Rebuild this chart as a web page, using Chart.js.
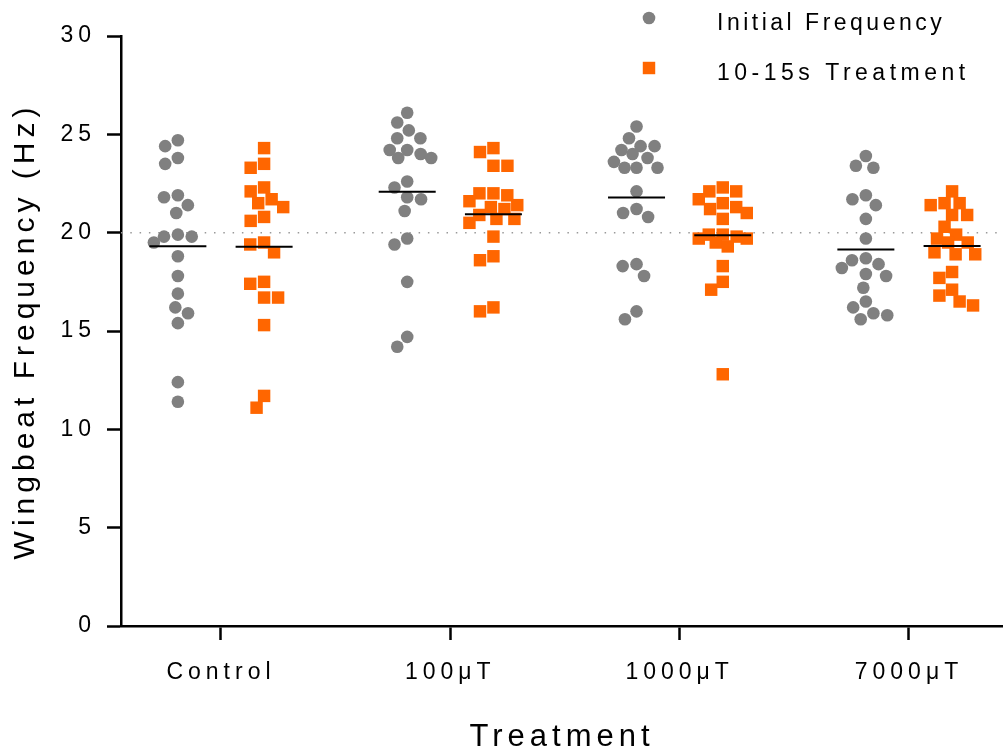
<!DOCTYPE html>
<html lang="en">
<head>
  <meta charset="UTF-8">
  <title>Wingbeat Frequency by Treatment</title>
  <script src="https://cdn.jsdelivr.net/npm/chart.js"></script>
  <style>
    html, body {
      margin: 0;
      padding: 0;
      background: #ffffff;
    }
    #wrap {
      width: 1003px;
      height: 753px;
    }
  </style>
</head>
<body>
  <div id="wrap"><canvas id="chart" width="1003" height="753"></canvas></div>

  <script>
    // values (Hz)
    const categories = ['Control', '100μT', '1000μT', '7000μT'];
    const seriesLabels = ['Initial Frequency', '10-15s Treatment'];

    const initialControl = [24.4, 24.7, 23.8, 23.5, 21.9, 21.8, 21.4, 21.0, 19.9, 19.8, 19.8, 19.5, 18.8, 17.8, 16.9, 16.2, 15.9, 15.4, 12.4, 11.4];
    const initial100 = [26.1, 25.6, 25.2, 24.8, 24.8, 24.2, 24.2, 23.8, 23.8, 24.0, 22.6, 22.3, 21.7, 21.8, 21.1, 19.7, 19.4, 17.5, 14.7, 14.2];
    const initial1000 = [25.4, 24.8, 24.4, 24.4, 24.2, 24.0, 23.8, 23.6, 23.3, 23.3, 23.3, 22.1, 21.2, 20.8, 21.0, 18.3, 18.4, 17.8, 16.0, 15.6];
    const initial7000 = [23.9, 23.3, 23.4, 21.9, 21.7, 21.4, 20.7, 19.7, 18.6, 18.7, 18.4, 18.2, 17.8, 17.9, 17.2, 16.5, 16.2, 15.9, 15.6, 15.8];

    const treatedControl = [24.3, 23.3, 23.5, 22.1, 22.3, 21.7, 21.3, 21.5, 20.6, 20.8, 19.4, 19.5, 19.0, 17.4, 17.5, 16.7, 16.7, 15.3, 11.7, 11.1];
    const treated100 = [24.3, 24.1, 23.4, 23.4, 22.0, 21.9, 22.0, 21.6, 21.4, 21.2, 21.3, 20.9, 20.7, 20.7, 20.5, 19.8, 18.8, 18.6, 16.0, 16.2];
    const treated1000 = [22.3, 22.1, 22.1, 21.5, 21.7, 21.2, 21.3, 21.0, 20.7, 19.9, 19.9, 19.7, 19.7, 19.5, 19.8, 19.3, 18.3, 17.5, 17.1, 12.8];
    const treated7000 = [22.1, 21.5, 21.4, 21.5, 20.9, 20.9, 20.3, 19.9, 19.7, 19.5, 19.5, 19.0, 18.9, 18.9, 18.0, 17.7, 17.1, 16.8, 16.5, 16.3];

    const yTicks = [0, 5, 10, 15, 20, 25, 30];
    const refLevel = 20;

    const FONT = "'Liberation Sans', Arial, sans-serif";
    const GRAY = '#808080';
    const ORANGE = '#ff6600';
    const X_MIN = -0.436, X_MAX = 3.41;
    const SHIFT = 0.188;   // half distance between the two columns of a group

    const initialGroups = [initialControl, initial100, initial1000, initial7000];
    const treatedGroups = [treatedControl, treated100, treated1000, treated7000];

    function mean(arr) {
      return arr.reduce((s, v) => s + v, 0) / arr.length;
    }

    function columnPoints(groups, shift) {
      return groups.flatMap((g, i) => g.map(v => ({ x: i + shift, y: v, cx: i + shift })));
    }

    function meanPoints(groups, shift) {
      return groups.map((g, i) => ({ x: i + shift, y: mean(g) }));
    }

    // beeswarm: spread overlapping points sideways (pixels), within maxOff of the column centre
    function swarm(points, xs, ys, dist, maxOff) {
      const pxPerUnit = xs.getPixelForValue(1) - xs.getPixelForValue(0);
      const cols = {};
      points.forEach(p => (cols[p.cx] = cols[p.cx] || []).push(p));
      Object.values(cols).forEach(list => {
        const placed = [];
        list.slice().sort((a, b) => b.y - a.y).forEach(p => {
          const py = ys.getPixelForValue(p.y);
          const near = placed.filter(q => Math.abs(q.py - py) < dist);
          const cands = [0];
          near.forEach(q => {
            const dx = Math.sqrt(dist * dist - (q.py - py) ** 2);
            cands.push(q.dx - dx, q.dx + dx);
          });
          cands.sort((a, b) => Math.abs(a) - Math.abs(b) || a - b);
          let off = cands.find(c => Math.abs(c) <= maxOff &&
            near.every(q => Math.hypot(q.dx - c, q.py - py) >= dist - 0.01));
          if (off === undefined) {
            // crowded row: take the least overlapping slot inside the band
            let best = -Infinity;
            for (let c = -maxOff; c <= maxOff; c += 1) {
              const d = Math.min(...near.map(q => Math.hypot(q.dx - c, q.py - py)));
              if (d > best + 0.01) { best = d; off = c; }
            }
          }
          placed.push({ dx: off, py: py });
          p.x = p.cx + off / pxPerUnit;
        });
      });
    }

    // Prism-like wide lettering
    const spacing = {
      id: 'spacing',
      beforeUpdate(c) { c.ctx.letterSpacing = '5px'; },
      beforeDraw(c) { c.ctx.letterSpacing = '5px'; }
    };

    // legend stacked at the top right, marker then text
    const sideLegend = {
      id: 'sideLegend',
      afterDraw(c, args, opts) {
        const ctx = c.ctx;
        ctx.save();
        ctx.font = opts.size + 'px ' + FONT;
        ctx.textBaseline = 'alphabetic';
        ctx.textAlign = 'left';
        opts.items.forEach((idx, k) => {
          const ds = c.data.datasets[idx];
          const my = opts.markerY + k * opts.step;
          ctx.fillStyle = ds.backgroundColor;
          ctx.beginPath();
          if (ds.pointStyle === 'rect') {
            const h = ds.pointRadius * Math.SQRT1_2;
            ctx.rect(opts.markerX - h, my - h, 2 * h, 2 * h);
          } else {
            ctx.arc(opts.markerX, my, ds.pointRadius, 0, Math.PI * 2);
          }
          ctx.fill();
          ctx.fillStyle = '#000';
          ctx.letterSpacing = opts.spacing[k];
          ctx.fillText(ds.label, opts.textX, opts.textY + k * opts.step);
        });
        ctx.restore();
      }
    };

    Chart.defaults.font.family = FONT;
    Chart.defaults.color = '#000';

    const initialPts = columnPoints(initialGroups, -SHIFT);
    const treatedPts = columnPoints(treatedGroups, SHIFT);

    const axisGrid = {
      display: true,
      drawOnChartArea: false,
      drawTicks: true,
      tickLength: 14,
      tickWidth: 2.5,
      tickColor: '#000'
    };
    const axisBorder = { display: true, color: '#000', width: 2.5 };

    const chart = new Chart(document.getElementById('chart'), {
      type: 'scatter',
      data: {
        datasets: [
          {
            label: 'mean initial',
            data: meanPoints(initialGroups, -SHIFT),
            pointStyle: 'line',
            pointRadius: 28.5,
            pointBorderWidth: 2,
            borderColor: '#000',
            order: 0
          },
          {
            label: 'mean treated',
            data: meanPoints(treatedGroups, SHIFT),
            pointStyle: 'line',
            pointRadius: 28.5,
            pointBorderWidth: 2,
            borderColor: '#000',
            order: 0
          },
          {
            label: seriesLabels[0],
            data: initialPts,
            pointStyle: 'circle',
            pointRadius: 6.3,
            backgroundColor: GRAY,
            borderWidth: 0,
            order: 1
          },
          {
            label: seriesLabels[1],
            data: treatedPts,
            pointStyle: 'rect',
            pointRadius: 8.8,
            backgroundColor: ORANGE,
            borderWidth: 0,
            order: 2
          },
          {
            type: 'line',
            label: 'reference',
            data: [{ x: X_MIN, y: refLevel }, { x: X_MAX, y: refLevel }],
            showLine: true,
            borderColor: '#999999',
            borderWidth: 1.5,
            borderDash: [1.5, 7.8],
            pointRadius: 0,
            order: 3
          }
        ]
      },
      options: {
        responsive: false,
        animation: false,
        events: [],
        layout: { autoPadding: false, padding: { top: 36, right: 0, left: 0, bottom: 0 } },
        plugins: {
          legend: { display: false },
          tooltip: { enabled: false },
          sideLegend: {
            items: [2, 3],
            markerX: 649,
            markerY: 18,
            textX: 717,
            textY: 30,
            step: 50,
            size: 23,
            spacing: ['3.5px', '4.5px']
          }
        },
        scales: {
          x: {
            type: 'linear',
            min: X_MIN,
            max: X_MAX,
            afterFit: s => { s.height = 127; s.paddingLeft = 0; s.paddingRight = 0; },
            afterBuildTicks: s => { s.ticks = categories.map((c, i) => ({ value: i })); },
            ticks: {
              callback: v => categories[v] ?? '',
              color: '#000',
              font: { size: 23 },
              padding: 19,
              maxRotation: 0,
              autoSkip: false
            },
            grid: axisGrid,
            border: axisBorder,
            title: {
              display: true,
              text: 'Treatment',
              color: '#000',
              font: { size: 31, lineHeight: 1 },
              padding: { top: 0, bottom: 0 }
            }
          },
          y: {
            min: 0,
            max: 30,
            afterFit: s => { s.width = 121; },
            afterBuildTicks: s => { s.ticks = yTicks.map(v => ({ value: v })); },
            ticks: {
              color: '#000',
              font: { size: 23 },
              padding: 11
            },
            grid: axisGrid,
            border: axisBorder,
            title: {
              display: true,
              text: 'Wingbeat Frequency (Hz)',
              color: '#000',
              font: { size: 30, lineHeight: 1 },
              padding: { top: 11, bottom: 0 }
            }
          }
        }
      },
      plugins: [spacing, sideLegend]
    });

    // spread the dots once the scales know their pixel sizes
    swarm(initialPts, chart.scales.x, chart.scales.y, 14, 24);
    swarm(treatedPts, chart.scales.x, chart.scales.y, 14, 24);
    chart.update('none');
  </script>
</body>
</html>
